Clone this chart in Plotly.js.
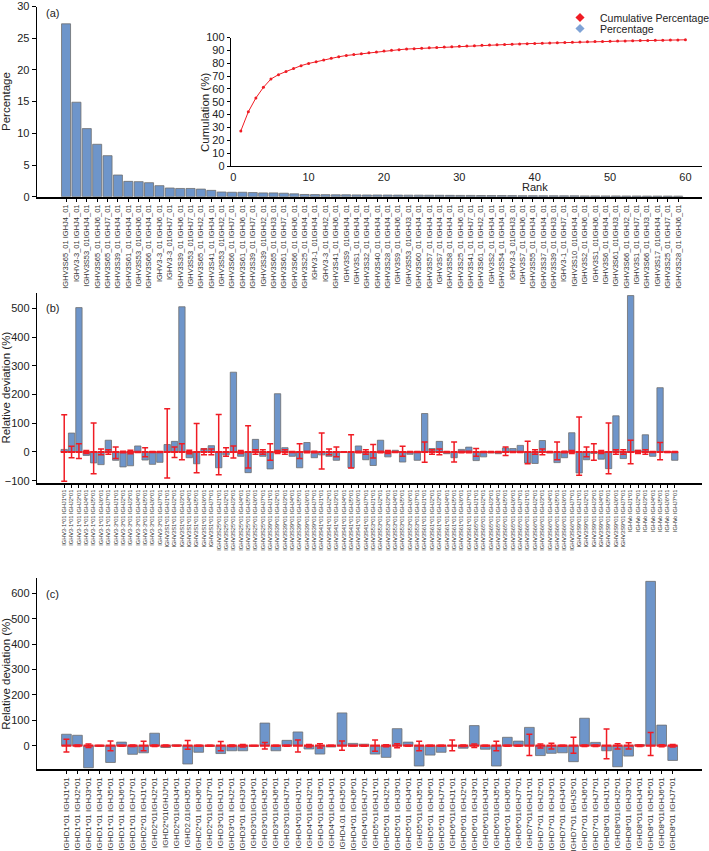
<!DOCTYPE html>
<html><head><meta charset="utf-8">
<script src="https://cdn.plot.ly/plotly-3.0.1.min.js"></script>
<style>html,body{margin:0;padding:0;background:#fff;overflow:hidden}#chart{width:709px;height:851px}</style>
</head><body><div id="chart"></div>
<script>
// ---------- Panel (a) ----------
const aLabels = ['IGHV3S65_01 IGHJ4_01','IGHV3-3_01 IGHJ4_01','IGHV3S53_01IGHJ4_01','IGHV3S65_01 IGHJ6_01','IGHV3S65_01 IGHJ7_01',
'IGHV3S39_01 IGHJ4_01','IGHV3S61_01 IGHJ4_01','IGHV3S53_01IGHJ6_01','IGHV3S66_01 IGHJ4_01','IGHV3-3_01 IGHJ6_01',
'IGHV3-3_01IGHJ7_01','IGHV3S39_01 IGHJ6_01','IGHV3S53_01IGHJ7_01','IGHV3S65_01 IGHJ2_01','IGHV3S41_01 IGHJ4_01',
'IGHV3S53_01IGHJ2_01','IGHV3S66_01 IGHJ7_01','IGHV3S61_01 IGHJ6_01','IGHV3S39_01 IGHJ7_01','IGHV3S39_01IGHJ2_01',
'IGHV3S65_01 IGHJ3_01','IGHV3S61_01 IGHJ7_01','IGHV3S66_01 IGHJ6_01','IGHV3S25_01 IGHJ4_01','IGHV3-1_01IGHJ4_01',
'IGHV3-3_01 IGHJ2_01','IGHV3S41_01 IGHJ6_01','IGHV3S9_01IGHJ4_01','IGHV3S1_01 IGHJ4_01','IGHV3S32_01 IGHJ4_01',
'IGHV3S40_01 IGHJ4_01','IGHV3S28_01 IGHJ4_01','IGHV3S9_01 IGHJ6_01','IGHV3S53_01IGHJ3_01','IGHV3S60_01 IGHJ4_01',
'IGHV3S57_01 IGHJ4_01','IGHV3S7_01 IGHJ4_01','IGHV3S58_01 IGHJ4_01','IGHV3S25_01 IGHJ6_01','IGHV3S41_01 IGHJ7_01',
'IGHV3S61_01 IGHJ2_01','IGHV3S2_01 IGHJ4_01','IGHV3S54_01 IGHJ4_01','IGHV3-3_01IGHJ3_01','IGHV3S7_01 IGHJ6_01',
'IGHV3S55_01 IGHJ4_01','IGHV3S37_01 IGHJ4_01','IGHV3S39_01 IGHJ3_01','IGHV3-1_01 IGHJ7_01','IGHV3S10_01IGHJ4_01',
'IGHV3S2_01 IGHJ6_01','IGHV3S1_01IGHJ6_01','IGHV3S6_01 IGHJ4_01','IGHV3S61_01IGHJ3_01','IGHV3S66_01 IGHJ2_01',
'IGHV3S1_01 IGHJ7_01','IGHV3S66_01 IGHJ3_01','IGHV3S17_01IGHJ4_01','IGHV3S25_01 IGHJ7_01','IGHV3S28_01 IGHJ6_01'];
const aPercentage = [27.27,14.9,10.74,8.27,6.47,3.42,2.42,2.37,2.21,1.74,
1.37,1.3,1.3,1.2,1.0,0.74,0.7,0.7,0.65,0.6,
0.6,0.55,0.45,0.35,0.33,0.32,0.3,0.3,0.28,0.27,
0.27,0.26,0.25,0.24,0.24,0.23,0.22,0.21,0.2,0.2,
0.19,0.18,0.18,0.17,0.16,0.16,0.15,0.15,0.14,0.14,
0.13,0.13,0.12,0.12,0.11,0.11,0.1,0.1,0.1,0.09];
const aRank = [1,2,3,4,5,6,7,8,9,10,11,12,13,14,15,16,17,18,19,20,
21,22,23,24,25,26,27,28,29,30,31,32,33,34,35,36,37,38,39,40,
41,42,43,44,45,46,47,48,49,50,51,52,53,54,55,56,57,58,59,60];
const aCumulative = [27.3,42.2,52.9,61.2,67.7,71.1,73.5,75.9,78.1,79.8,
81.2,82.5,83.8,85.0,86.0,86.7,87.4,88.1,88.8,89.4,
90.0,90.5,91.0,91.3,91.6,92.0,92.3,92.6,92.8,93.1,
93.4,93.6,93.9,94.1,94.4,94.6,94.8,95.0,95.2,95.4,
95.6,95.8,96.0,96.2,96.3,96.5,96.6,96.8,96.9,97.1,
97.2,97.3,97.4,97.6,97.7,97.8,97.9,98.0,98.1,98.2];

// ---------- Panel (b) ----------
const bLabels = [
'IGHV3-1*01 IGHJ1*01','IGHV3-1*01 IGHJ2*01','IGHV3-1*01 IGHJ3*01','IGHV3-1*01 IGHJ4*01','IGHV3-1*01 IGHJ5*01','IGHV3-1*01 IGHJ6*01','IGHV3-1*01 IGHJ7*01',
'IGHV3-3*01 IGHJ1*01','IGHV3-3*01 IGHJ2*01','IGHV3-3*01 IGHJ3*01','IGHV3-3*01 IGHJ4*01','IGHV3-3*01 IGHJ5*01','IGHV3-3*01 IGHJ6*01','IGHV3-3*01 IGHJ7*01',
'IGHV3S1*01 IGHJ1*01','IGHV3S1*01 IGHJ2*01','IGHV3S1*01 IGHJ3*01','IGHV3S1*01 IGHJ4*01','IGHV3S1*01 IGHJ5*01','IGHV3S1*01 IGHJ6*01','IGHV3S1*01 IGHJ7*01',
'IGHV3S25*01 IGHJ1*01','IGHV3S25*01 IGHJ2*01','IGHV3S25*01 IGHJ3*01','IGHV3S25*01 IGHJ4*01','IGHV3S25*01 IGHJ5*01','IGHV3S25*01 IGHJ6*01','IGHV3S25*01 IGHJ7*01',
'IGHV3S39*01 IGHJ1*01','IGHV3S39*01 IGHJ2*01','IGHV3S39*01 IGHJ3*01','IGHV3S39*01 IGHJ4*01','IGHV3S39*01 IGHJ5*01','IGHV3S39*01 IGHJ6*01','IGHV3S39*01 IGHJ7*01',
'IGHV3S41*01 IGHJ1*01','IGHV3S41*01 IGHJ2*01','IGHV3S41*01 IGHJ3*01','IGHV3S41*01 IGHJ4*01','IGHV3S41*01 IGHJ5*01','IGHV3S41*01 IGHJ6*01','IGHV3S41*01 IGHJ7*01',
'IGHV3S53*01 IGHJ1*01','IGHV3S53*01 IGHJ2*01','IGHV3S53*01 IGHJ3*01','IGHV3S53*01 IGHJ4*01','IGHV3S53*01 IGHJ5*01','IGHV3S53*01 IGHJ6*01','IGHV3S53*01 IGHJ7*01',
'IGHV3S61*01 IGHJ1*01','IGHV3S61*01 IGHJ2*01','IGHV3S61*01 IGHJ3*01','IGHV3S61*01 IGHJ4*01','IGHV3S61*01 IGHJ5*01','IGHV3S61*01 IGHJ6*01','IGHV3S61*01 IGHJ7*01',
'IGHV3S65*01 IGHJ1*01','IGHV3S65*01 IGHJ2*01','IGHV3S65*01 IGHJ3*01','IGHV3S65*01 IGHJ4*01','IGHV3S65*01 IGHJ5*01','IGHV3S65*01 IGHJ6*01','IGHV3S65*01 IGHJ7*01',
'IGHV3S66*01 IGHJ1*01','IGHV3S66*01 IGHJ2*01','IGHV3S66*01 IGHJ3*01','IGHV3S66*01 IGHJ4*01','IGHV3S66*01 IGHJ5*01','IGHV3S66*01 IGHJ6*01','IGHV3S66*01 IGHJ7*01',
'IGHV3S9*01 IGHJ1*01','IGHV3S9*01 IGHJ2*01','IGHV3S9*01 IGHJ3*01','IGHV3S9*01 IGHJ4*01','IGHV3S9*01 IGHJ5*01','IGHV3S9*01 IGHJ6*01','IGHV3S9*01 IGHJ7*01',
'IGHVo IGHJ1*01','IGHVo IGHJ2*01','IGHVo IGHJ3*01','IGHVo IGHJ4*01','IGHVo IGHJ5*01','IGHVo IGHJ6*01','IGHVo IGHJ7*01'];
const bDeviation = [
9,66,503,-12,-38,-44,41,
-29,-52,-48,21,-28,-43,-36,
26,37,506,-20,-41,12,22,
-55,-10,278,-15,-72,44,-15,
-59,203,15,-15,-55,33,-20,
-10,-15,-29,-2,-55,21,-27,
-47,41,-17,6,-35,-8,-29,
134,12,37,-6,-20,9,17,
-30,-17,-3,-6,14,12,23,
-38,-40,40,-3,-37,-20,67,
-73,-27,-5,-25,-58,126,-23,
545,6,60,-15,224,-2,-29];
const bErrHigh = [
130,20,29,5,101,10,8,
17,3,6,2,15,2,2,
151,17,29,6,99,10,10,
131,15,21,5,91,8,8,
29,5,8,2,29,3,3,
66,10,17,1,60,3,8,
26,3,5,2,20,2,2,
35,8,10,2,35,3,3,
12,2,2,2,17,2,2,
37,8,10,2,35,3,5,
122,17,29,5,101,8,8,
41,5,8,2,33,2,2];
const bErrLow = [
-102,-20,-23,-5,-76,-10,-8,
-23,-3,-6,-2,-17,-2,-2,
-91,-19,-27,-6,-72,-10,-10,
-79,-15,-21,-5,-56,-8,-8,
-29,-5,-8,-2,-23,-3,-3,
-59,-10,-17,-1,-56,-3,-8,
-21,-3,-5,-2,-15,-2,-2,
-36,-8,-10,-2,-35,-3,-3,
-15,-2,-2,-2,-12,-2,-2,
-41,-8,-10,-2,-27,-3,-5,
-81,-17,-29,-5,-76,-8,-8,
-41,-5,-8,-2,-27,-2,-2];

// ---------- Panel (c) ----------
const cLabels = [
'IGHD1*01 IGHJ1*01','IGHD1*01 IGHJ2*01','IGHD1*01 IGHJ3*01','IGHD1*01 IGHJ4*01','IGHD1*01 IGHJ5*01','IGHD1*01 IGHJ6*01','IGHD1*01 IGHJ7*01',
'IGHD2*01 IGHJ1*01','IGHD2*01IGHJ2*01','IGHD2*01IGHJJ*01','IGHD2*01IGHJ4*01','IGHD2.01IGHJ5*01','IGHD2*01 IGHJ6*01','IGHD2*01IGHJ7*01',
'IGHD3*01IGHJ1*01','IGHD3*01 IGHJ2*01','IGHD3*01 IGHJ3*01','IGHD3*01IGHJ4*01','IGHD3*01IGHJ5*01','IGHD3*01IGHJ6*01','IGHD3*01IGHJ7*01',
'IGHD4*01IGHJ1*01','IGHD4*01IGHJ2*01','IGHD4*01IGHJ3*01','IGHD4*01IGHJ4*01','IGHD4.01 IGHJ5*01','IGHD4*01 IGHJ6*01','IGHD4*01IGHJ7*01',
'IGHD5*o1IGHJ1*01','IGHD5*01 IGHJ2*01','IGHD5*01 IGHJ3*01','IGHD5*01 IGHJ4*01','IGHD5*01IGHJ5*01','IGHD5*01 IGHJ6*01','IGHD5*01 IGHJ7*01',
'IGHD6*01IGHJ1*01','IGHD6*01 IGHJ2*01','IGHD6*01 IGHJ3*01','IGHD6*01IGHJ4*01','IGHD6*01IGHJ5*01','IGHD6*01 IGHJ6*01','IGHD6*01IGHJ7*01',
'IGHD7*01IGHJ1*01','IGHD7*01 IGHJ2*01','IGHD7*01 IGHJ3*01','IGHD7*01 IGHJ4*01','IGHD7*01 IGHJS*01','IGHD7*01 IGHJ6*01','IGHD7*01 IGHJ7*01',
'IGHD8*01 IGHJ1*01','IGHD8*01IGHJ2*01','IGHD8*01 IGHJ3*01','IGHD8*01IGHJ4*01','IGHD8*01 IGHJ5*01','IGHD8*01IGHJ6*01','IGHD8*01 IGHJ7*01'];
const cDeviation = [
45,41,-87,-2,-66,14,-34,
-28,49,-7,3,-72,-26,-2,
-31,-20,-20,-2,89,-20,21,
54,-13,-33,-5,129,9,6,
-33,-46,67,14,-80,-37,-26,
0,-10,79,-14,-80,33,18,
72,-39,-30,-28,-63,108,13,
-20,-83,-41,4,647,81,-58];
const cErrHigh = [
25,3,7,1,18,2,3,
17,3,3,1,20,2,2,
16,3,5,1,13,2,2,
22,5,8,2,18,1,2,
22,4,8,2,17,2,2,
22,3,7,2,17,2,2,
45,7,10,2,33,3,3,
66,8,12,3,52,4,5];
const cErrLow = [
-25,-3,-7,-1,-20,-2,-3,
-20,-3,-3,-1,-14,-2,-2,
-20,-3,-5,-1,-13,-2,-2,
-25,-5,-9,-2,-18,-1,-2,
-22,-4,-8,-2,-20,-2,-2,
-20,-3,-7,-2,-20,-2,-2,
-39,-9,-13,-2,-30,-3,-3,
-51,-13,-13,-3,-39,-4,-5];

// ---------- styling ----------
const BAR_FILL = '#6e95ca';
const BAR_EDGE = '#6e6e6e';
const RED = '#f01c24';
const FONT = 'Liberation Sans, Arial, Helvetica, sans-serif';

const idx = arr => arr.map((_, i) => i);

function barTrace(labels, values, xa, ya, width) {
  return {type: 'bar', x: idx(labels), y: values, hovertext: labels, hoverinfo: 'text+y',
    textposition: 'none', xaxis: xa, yaxis: ya, width: width, showlegend: false,
    marker: {color: BAR_FILL, line: {color: BAR_EDGE, width: 0.8}}};
}
function errTrace(labels, hi, lo, xa, ya, size) {
  return {type: 'scatter', mode: 'markers', x: idx(labels), y: labels.map(() => 0),
    xaxis: xa, yaxis: ya, showlegend: false, hoverinfo: 'skip',
    marker: {symbol: 'line-ew-open', size: size, color: RED, line: {color: RED, width: 2.2}},
    error_y: {type: 'data', symmetric: false, array: hi, arrayminus: lo.map(v => -v),
      color: RED, thickness: 1.5, width: 3}};
}

const traces = [
  barTrace(aLabels, aPercentage, 'x', 'y', 0.87),
  {type: 'scatter', mode: 'lines+markers', x: aRank, y: aCumulative, xaxis: 'x4', yaxis: 'y4',
   showlegend: false, line: {color: RED, width: 1}, marker: {color: RED, size: 3}},
  {type: 'scatter', mode: 'markers', x: [null], y: [null], xaxis: 'x4', yaxis: 'y4',
   name: 'Cumulative Percentage', legend: 'legend', marker: {symbol: 'diamond', size: 7, color: RED}},
  {type: 'scatter', mode: 'markers', x: [null], y: [null], xaxis: 'x4', yaxis: 'y4',
   name: 'Percentage', legend: 'legend2', marker: {symbol: 'diamond', size: 7, color: '#7fa3d6'}},
  barTrace(bLabels, bDeviation, 'x2', 'y2', 0.86),
  errTrace(bLabels, bErrHigh, bErrLow, 'x2', 'y2', 5),
  barTrace(cLabels, cDeviation, 'x3', 'y3', 0.88),
  errTrace(cLabels, cErrHigh, cErrLow, 'x3', 'y3', 7)
];

const W = 709, H = 851;
const px = x => x / W;
const py = y => 1 - y / H;

const baseY = {showline: true, linecolor: '#000', linewidth: 1.3, ticks: 'outside', ticklen: 4,
  tickcolor: '#000', showgrid: false, zeroline: false, tickfont: {size: 11, color: '#222'}};
const baseX = {showline: true, linecolor: '#000', linewidth: 1.8, ticks: 'outside', ticklen: 3,
  tickcolor: '#000', showgrid: false, zeroline: false, tickangle: -90};

function note(text, x, y, extra) {
  return Object.assign({text: text, x: px(x), y: py(y), xref: 'paper', yref: 'paper',
    xanchor: 'center', yanchor: 'middle', showarrow: false, font: {size: 11}}, extra || {});
}

const layout = {
  width: W, height: H, margin: {l: 0, r: 0, t: 0, b: 0, autoexpand: false},
  paper_bgcolor: '#fff', plot_bgcolor: 'rgba(0,0,0,0)',
  font: {family: FONT, size: 11, color: '#222'},
  barmode: 'overlay',
  xaxis: Object.assign({}, baseX, {domain: [px(37), px(702)], range: [-2.8, 61.3], anchor: 'y',
    tickvals: idx(aLabels), ticktext: aLabels, tickfont: {size: 7.5, color: '#333'}}),
  yaxis: Object.assign({}, baseY, {domain: [py(196.7), py(6.5)], range: [0, 30], dtick: 5, anchor: 'x',
    title: {text: 'Percentage', font: {size: 11.5}, standoff: 6}}),
  xaxis4: {domain: [px(231), px(702)], range: [-0.3, 62.2], anchor: 'y4', showline: true,
    linecolor: '#000', linewidth: 1.3, ticks: '', showgrid: false, zeroline: false,
    tickvals: [0, 10, 20, 30, 40, 50, 60], tickfont: {size: 11, color: '#222'}},
  yaxis4: Object.assign({}, baseY, {domain: [py(166), py(37.5)], range: [0, 100], dtick: 10, anchor: 'x4',
    ticklen: 3}),
  xaxis2: Object.assign({}, baseX, {domain: [px(37), px(702)], range: [-3.7, 86.7], anchor: 'y2',
    tickvals: idx(bLabels), ticktext: bLabels, tickfont: {size: 5.6, color: '#333'}}),
  yaxis2: Object.assign({}, baseY, {domain: [py(482.7), py(292.7)], range: [-107, 555], dtick: 100, anchor: 'x2',
    title: {text: 'Relative deviation (%)', font: {size: 11.5}, standoff: 4}}),
  xaxis3: Object.assign({}, baseX, {domain: [px(37), px(702)], range: [-2.67, 57.66], anchor: 'y3',
    tickvals: idx(cLabels), ticktext: cLabels, tickfont: {size: 8, color: '#333'}}),
  yaxis3: Object.assign({}, baseY, {domain: [py(769.3), py(578.3)], range: [-93, 659], dtick: 100, anchor: 'x3',
    title: {text: 'Relative deviation (%)', font: {size: 11.5}, standoff: 4}}),
  legend: {x: px(560), y: py(3), xanchor: 'left', yanchor: 'top', bgcolor: 'rgba(0,0,0,0)',
    font: {size: 10.5, color: '#222'}, itemwidth: 30},
  legend2: {x: px(560), y: py(14), xanchor: 'left', yanchor: 'top', bgcolor: 'rgba(0,0,0,0)',
    font: {size: 10.5, color: '#222'}, itemwidth: 30},
  showlegend: true,
  annotations: [
    note('(a)', 52, 13),
    note('(b)', 52, 308),
    note('(c)', 52, 594),
    note('Rank', 535, 187),
    note('Cumulation (%)', 205, 113, {textangle: -90, font: {size: 11.5}})
  ]
};

Plotly.newPlot('chart', traces, layout, {displayModeBar: false, staticPlot: true});
</script>
</body></html>
